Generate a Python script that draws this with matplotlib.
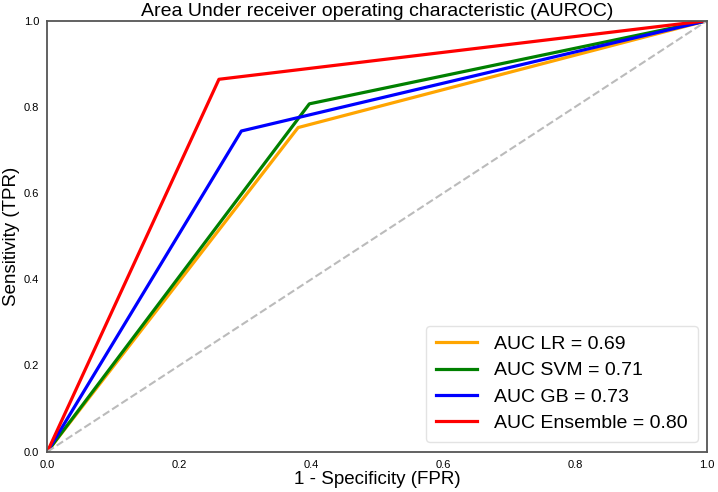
import matplotlib
matplotlib.use("Agg")
import matplotlib.pyplot as plt

models = ["LR", "SVM", "GB", "Ensemble"]
auc = [0.69, 0.71, 0.73, 0.80]
fpr = [[0.0, 0.38, 1.0], [0.0, 0.397, 1.0], [0.0, 0.294, 1.0], [0.0, 0.26, 1.0]]
tpr = [[0.0, 0.752, 1.0], [0.0, 0.807, 1.0], [0.0, 0.744, 1.0], [0.0, 0.864, 1.0]]
colors = ["orange", "green", "blue", "red"]

plt.rcParams['font.family'] = ['Liberation Sans', 'DejaVu Sans']

fig, ax = plt.subplots(figsize=(7.18, 4.92), dpi=100)
fig.subplots_adjust(left=0.066, right=0.985, top=0.958, bottom=0.082)

for m, a, x, y, c in zip(models, auc, fpr, tpr, colors):
    ax.plot(x, y, color=c, lw=2.3, label=f"AUC {m} = {a:.2f}")
ax.plot([0, 1], [0, 1], color="#bbbbbb", lw=1.5, ls="--")

ax.set_xlim(0, 1)
ax.set_ylim(0, 1)
ax.set_title("Area Under receiver operating characteristic (AUROC)", fontsize=14, pad=3)
ax.set_xlabel("1 - Specificity (FPR)", fontsize=13.5, labelpad=1)
ax.set_ylabel("Sensitivity (TPR)", fontsize=13.5, labelpad=3)
ax.tick_params(axis='both', labelsize=8, length=0, pad=6)
for s in ax.spines.values():
    s.set_color("#555555")
    s.set_linewidth(1.3)
leg = ax.legend(loc="lower right", fontsize=14, frameon=True, handlelength=2.1,
                handletextpad=0.9, borderpad=0.5, labelspacing=0.45)
leg.get_frame().set_edgecolor("#dddddd")

fig.savefig("out.png", dpi=100)
